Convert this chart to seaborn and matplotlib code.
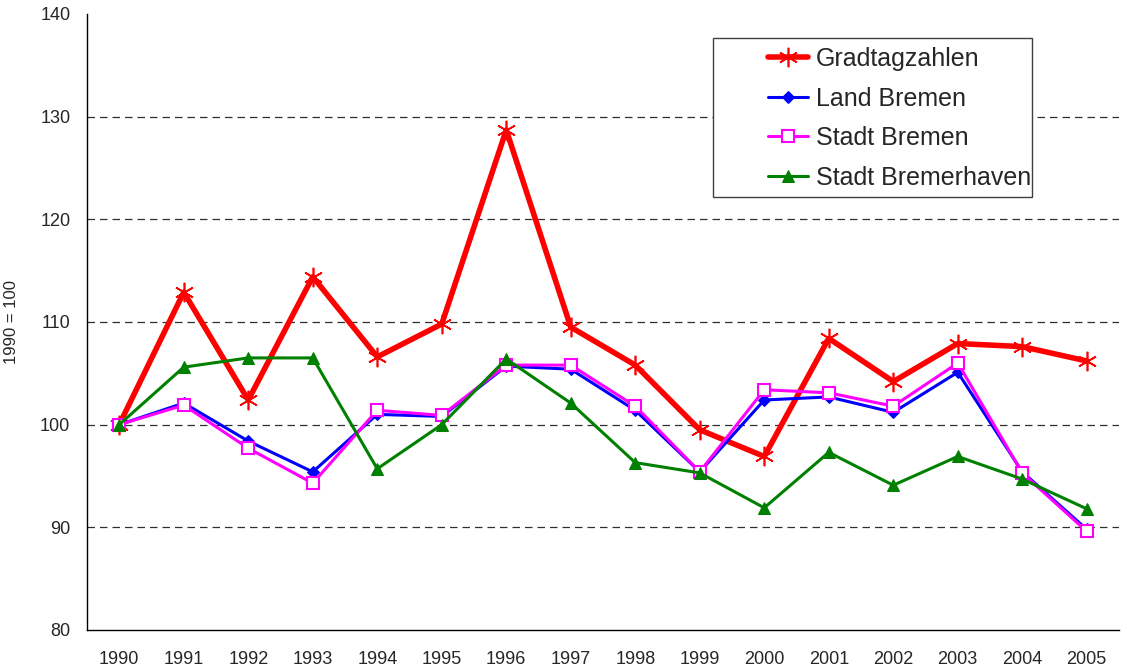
import matplotlib
matplotlib.use("Agg")
import matplotlib.pyplot as plt
from matplotlib.patches import Rectangle
import seaborn as sns
import pandas as pd

# === DATA (index, 1990 = 100) ===
years = list(range(1990, 2006))
gradtagzahlen = [100.0, 112.9, 102.4, 114.4, 106.6, 109.8, 128.7, 109.5,
                 105.8, 99.5, 96.9, 108.4, 104.2, 107.9, 107.6, 106.2]
land_bremen = [100.0, 102.1, 98.4, 95.4, 101.0, 100.8, 105.7, 105.4,
               101.4, 95.4, 102.4, 102.7, 101.2, 105.1, 95.4, 89.8]
stadt_bremen = [100.0, 101.9, 97.7, 94.3, 101.4, 100.9, 105.8, 105.8,
                101.8, 95.4, 103.4, 103.1, 101.8, 106.0, 95.3, 89.6]
stadt_bremerhaven = [100.0, 105.6, 106.5, 106.5, 95.7, 100.0, 106.4, 102.1,
                     96.3, 95.3, 91.9, 97.3, 94.1, 96.9, 94.7, 91.8]
series_names = ["Gradtagzahlen", "Land Bremen", "Stadt Bremen", "Stadt Bremerhaven"]
y_ticks = [80, 90, 100, 110, 120, 130, 140]

df = pd.DataFrame({
    "Jahr": years * 4,
    "Wert": gradtagzahlen + land_bremen + stadt_bremen + stadt_bremerhaven,
    "Reihe": [n for n in series_names for _ in years],
})

# === STYLE ===
sns.set_style("white")
plt.rcParams["font.family"] = ["Liberation Sans", "DejaVu Sans"]

styles = {
    "Gradtagzahlen": dict(color="#FF0000", linewidth=4, marker=(6, 2, 0),
                          markersize=14, markeredgewidth=1.2, markeredgecolor="#FF0000"),
    "Land Bremen": dict(color="#0000FF", linewidth=2.2, marker="D",
                        markersize=6.5, markeredgecolor="#0000FF"),
    "Stadt Bremen": dict(color="#FF00FF", linewidth=2.2, marker="s", markersize=9,
                         markerfacecolor="white", markeredgecolor="#FF00FF",
                         markeredgewidth=1.5),
    "Stadt Bremerhaven": dict(color="#008000", linewidth=2.2, marker="^",
                              markersize=9, markeredgecolor="#008000"),
}

fig = plt.figure(figsize=(11.27, 6.68), dpi=100)
ax = fig.add_axes([0.0772, 0.0569, 0.9157, 0.9222])

for name in series_names:
    sub = df[df["Reihe"] == name]
    sns.lineplot(data=sub, x="Jahr", y="Wert", ax=ax, label=name, **styles[name])

# === AXES ===
ax.set_xlim(years[0] - 0.5, years[-1] + 0.5)
ax.set_ylim(y_ticks[0], y_ticks[-1])
ax.set_xticks(years)
ax.set_xticklabels([str(y) for y in years], fontsize=13)
ax.set_xticks([y - 0.5 for y in years] + [years[-1] + 0.5], minor=True)
ax.tick_params(axis="x", which="major", length=0, pad=15)
ax.tick_params(axis="x", which="minor", length=6, width=0.8, direction="out", color="black")
ax.set_yticks(y_ticks)
ax.set_yticklabels([str(v) for v in y_ticks], fontsize=13)
ax.tick_params(axis="y", length=6, width=0.8, direction="out", color="black", pad=6)
ax.set_xlabel("")
ax.set_ylabel("1990 = 100", fontsize=12)
ax.yaxis.set_label_coords(-0.066, 0.5)

for v in y_ticks[1:-1]:
    ax.axhline(v, color="#303030", linewidth=0.9, linestyle=(0, (6, 4)), zorder=0)

for side in ["top", "right"]:
    ax.spines[side].set_visible(False)
for side in ["left", "bottom"]:
    ax.spines[side].set_color("black")
    ax.spines[side].set_linewidth(1.0)

# === LEGEND ===
ax.add_patch(Rectangle((0.6066, 0.703), 0.3091, 0.258, transform=ax.transAxes,
                       facecolor="white", edgecolor="#404040", linewidth=1.0, zorder=5))
leg = ax.legend(loc="upper left", bbox_to_anchor=(0.660, 0.946), frameon=False,
                fontsize=18, handlelength=1.6, handletextpad=0.3, labelspacing=0.62,
                borderpad=0, borderaxespad=0)
leg.set_zorder(6)

fig.savefig("out.png", dpi=100)
